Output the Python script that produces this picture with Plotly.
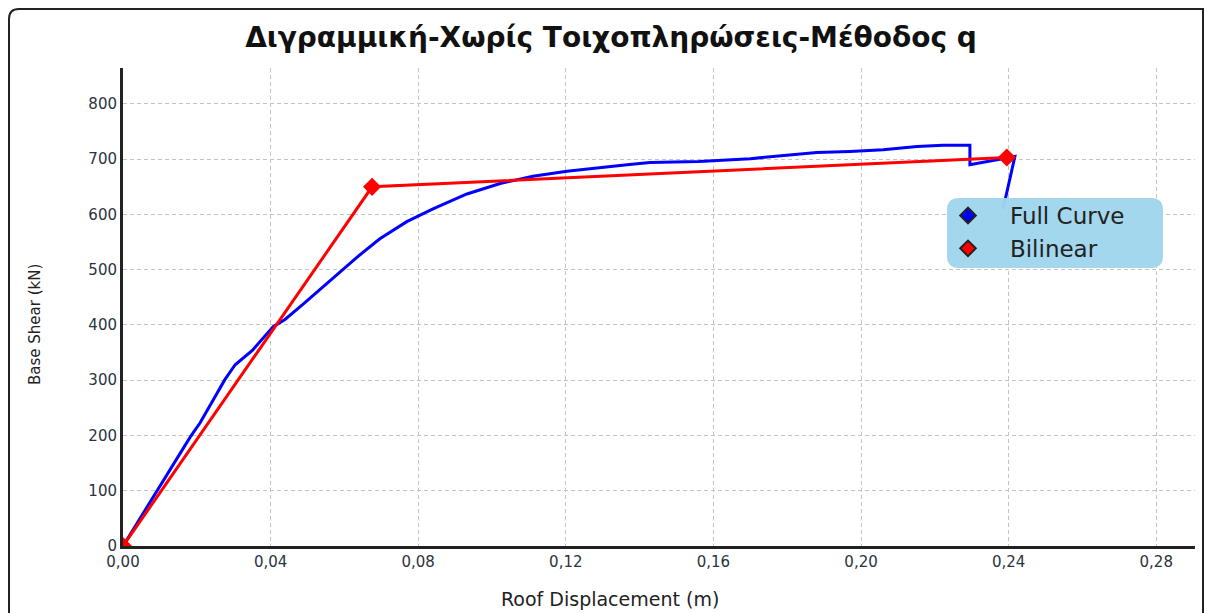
import plotly.graph_objects as go

# Full pushover curve
full_x = [0.0, 0.0073, 0.0127, 0.0182, 0.0209, 0.0249, 0.0276, 0.0304, 0.0352, 0.0407,
          0.0439, 0.0489, 0.0534, 0.0579, 0.0633, 0.0696, 0.0769, 0.084, 0.0932, 0.1022,
          0.1111, 0.1203, 0.1293, 0.1366, 0.1428, 0.156, 0.17, 0.1789, 0.188, 0.197,
          0.206, 0.2152, 0.2222, 0.2295, 0.2295, 0.2417, 0.2385]
full_y = [0, 80, 138, 197, 223, 270, 301, 328, 355, 397,
          410, 438, 464, 491, 522, 556, 587, 610, 637, 656,
          669, 678, 685, 690, 694, 696, 701, 707, 712, 714,
          717, 723, 725, 725, 690, 705, 610]

# Bilinear idealisation
bil_x = [0.0, 0.0675, 0.2395]
bil_y = [0, 650, 703]

title = "Διγραμμική-Χωρίς Τοιχοπληρώσεις-Μέθοδος q"
x_title = "Roof Displacement (m)"
y_title = "Base Shear (kN)"
x_ticks = [0.0, 0.04, 0.08, 0.12, 0.16, 0.20, 0.24, 0.28]
y_ticks = [0, 100, 200, 300, 400, 500, 600, 700, 800]
legend_names = ["Full Curve", "Bilinear"]

FONT = "DejaVu Sans, Verdana, sans-serif"
NB = "\u00a0\u00a0\u00a0"

fig = go.Figure()
fig.add_trace(go.Scatter(x=full_x, y=full_y, mode="lines", line=dict(color="#0000ff", width=3),
                         showlegend=False, hoverinfo="skip"))
fig.add_trace(go.Scatter(x=bil_x, y=bil_y, mode="lines+markers", line=dict(color="#ff0000", width=3),
                         marker=dict(symbol="diamond", size=14, color="#ff0000"),
                         showlegend=False, hoverinfo="skip"))
# legend entries (marker only)
fig.add_trace(go.Scatter(x=[None], y=[None], mode="markers", name=NB + legend_names[0],
                         marker=dict(symbol="diamond", size=14, color="#0000ff",
                                     line=dict(color="#222", width=1))))
fig.add_trace(go.Scatter(x=[None], y=[None], mode="markers", name=NB + legend_names[1],
                         marker=dict(symbol="diamond", size=14, color="#ff0000",
                                     line=dict(color="#222", width=1))))

L, R, T, B = 123, 10, 68, 67
W, H = 1205, 613
pw, ph = W - L - R, H - T - B

def px(x):
    return (x - L) / pw

def py(y):
    return (H - B - y) / ph

# rounded legend box
x0, x1, y0, y1 = px(947), px(1163), py(268), py(198)
rx, ry = 12 / pw, 12 / ph
path = (f"M {x0+rx},{y1} L {x1-rx},{y1} Q {x1},{y1} {x1},{y1-ry} L {x1},{y0+ry} "
        f"Q {x1},{y0} {x1-rx},{y0} L {x0+rx},{y0} Q {x0},{y0} {x0},{y0+ry} "
        f"L {x0},{y1-ry} Q {x0},{y1} {x0+rx},{y1} Z")
shapes = [
    dict(type="path", xref="paper", yref="paper", path=path,
         fillcolor="rgba(160,214,236,0.97)", line=dict(width=0), layer="above"),
]
# outer border with rounded top-left
bx0, bx1, by0, by1 = px(9), px(1203), py(640), py(9)
brx, bry = 10 / pw, 10 / ph
bpath = (f"M {bx0},{by0} L {bx0},{by1-bry} Q {bx0},{by1} {bx0+brx},{by1} L {bx1},{by1} L {bx1},{by0}")
shapes.append(dict(type="path", xref="paper", yref="paper", path=bpath,
                   line=dict(color="#222", width=2), layer="below"))

grid = dict(showgrid=True, gridcolor="#c4c4c4", griddash="4px,3px", gridwidth=1,
            showline=True, linecolor="#222", linewidth=3, zeroline=False,
            ticks="", tickfont=dict(size=15, color="#2a3340", family=FONT), fixedrange=True)

fig.update_layout(
    width=W, height=H,
    margin=dict(l=L, r=R, t=T, b=B),
    paper_bgcolor="white", plot_bgcolor="white",
    separators=",.",
    font=dict(family=FONT, color="#333", size=14),
    title=dict(text=f"<b>{title}</b>", x=611 / W, xref="container", xanchor="center",
               y=1 - 37 / H, yref="container", yanchor="middle",
               font=dict(size=28, color="#111", family=FONT)),
    xaxis=dict(range=[0, 0.2905], tickvals=x_ticks, tickformat=".2f", **grid),
    yaxis=dict(range=[0, 865], tickvals=y_ticks, **grid),
    legend=dict(x=px(948), y=py(194), xanchor="left", yanchor="top",
                bgcolor="rgba(0,0,0,0)", borderwidth=0,
                font=dict(size=23, color="#222", family=FONT),
                itemsizing="constant", tracegroupgap=0),
    shapes=shapes,
    annotations=[
        dict(text=x_title, xref="paper", yref="paper", x=px(610), y=py(599),
             xanchor="center", yanchor="middle", showarrow=False,
             font=dict(size=19, color="#222", family=FONT)),
        dict(text=y_title, xref="paper", yref="paper", x=px(35), y=py(325),
             xanchor="center", yanchor="middle", showarrow=False, textangle=-90,
             font=dict(size=15, color="#222", family=FONT)),
    ],
)

fig.write_html("out.html", config={"displayModeBar": False},
               post_script="document.body.style.margin='0';document.body.style.overflow='hidden';")
